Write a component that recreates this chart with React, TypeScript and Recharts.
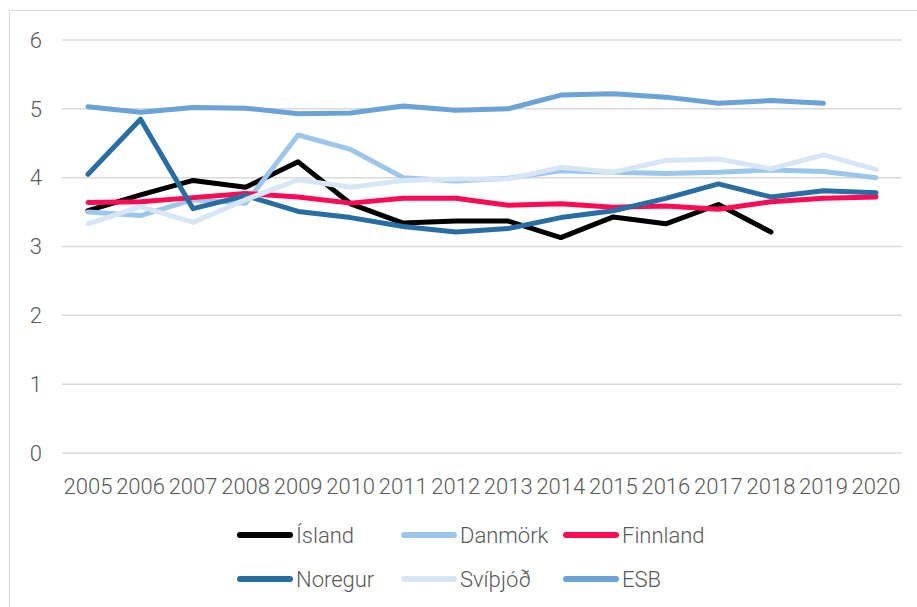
import { CartesianGrid, Legend, Line, LineChart, XAxis, YAxis } from "recharts";

const years = [
  "2005", "2006", "2007", "2008", "2009", "2010", "2011", "2012",
  "2013", "2014", "2015", "2016", "2017", "2018", "2019", "2020",
];

const island = [3.52, 3.75, 3.96, 3.86, 4.23, 3.62, 3.34, 3.37, 3.37, 3.13, 3.43, 3.33, 3.61, 3.21, null, null];
const danmork = [3.5, 3.45, 3.68, 3.63, 4.62, 4.41, 4.0, 3.95, 3.99, 4.1, 4.08, 4.06, 4.08, 4.11, 4.09, 4.0];
const finnland = [3.64, 3.65, 3.71, 3.77, 3.72, 3.63, 3.7, 3.7, 3.6, 3.62, 3.57, 3.59, 3.54, 3.65, 3.7, 3.72];
const noregur = [4.05, 4.85, 3.55, 3.74, 3.51, 3.42, 3.29, 3.21, 3.26, 3.42, 3.52, 3.7, 3.91, 3.72, 3.81, 3.78];
const svithjod = [3.33, 3.58, 3.35, 3.68, 3.97, 3.86, 3.96, 3.98, 3.98, 4.15, 4.08, 4.25, 4.27, 4.13, 4.33, 4.12];
const esb = [5.03, 4.95, 5.02, 5.01, 4.93, 4.94, 5.04, 4.98, 5.0, 5.2, 5.22, 5.17, 5.08, 5.12, 5.08, null];

const yTicks = [0, 1, 2, 3, 4, 5, 6];

const series = [
  { key: "island", name: "Ísland", color: "#000000", values: island },
  { key: "danmork", name: "Danmörk", color: "#9dc7ea", values: danmork },
  { key: "finnland", name: "Finnland", color: "#ff0a54", values: finnland },
  { key: "noregur", name: "Noregur", color: "#286ea2", values: noregur },
  { key: "svithjod", name: "Svíþjóð", color: "#d6e6f7", values: svithjod },
  { key: "esb", name: "ESB", color: "#6ca3d6", values: esb },
];

const data = years.map((year, i) => {
  const row: Record<string, string | number | null> = { year };
  series.forEach((s) => {
    row[s.key] = s.values[i];
  });
  return row;
});

const font = "Roboto, 'Noto Sans', sans-serif";
const textColor = "#595959";
const legendCols = [237, 401, 563];

function renderLegend() {
  return (
    <div style={{ position: "relative", height: 90, fontFamily: font, fontWeight: 300 }}>
      {series.map((s, i) => (
        <div
          key={s.key}
          style={{
            position: "absolute",
            left: legendCols[i % 3],
            top: i < 3 ? 0 : 44,
            height: 44,
            display: "flex",
            alignItems: "center",
          }}
        >
          <span
            style={{
              display: "inline-block",
              width: 56,
              height: 6,
              borderRadius: 3,
              background: s.color,
              marginRight: 3,
            }}
          />
          <span style={{ fontSize: 22, color: textColor }}>{s.name}</span>
        </div>
      ))}
    </div>
  );
}

export default function App() {
  return (
    <div style={{ position: "absolute", left: 0, top: 0, width: 917, height: 607, background: "#fff" }}>
      <div
        style={{
          position: "absolute",
          left: 9,
          top: 10,
          width: 908,
          height: 597,
          borderLeft: "1px solid #d9d9d9",
          borderTop: "1px solid #d9d9d9",
        }}
      />
      <LineChart
        width={917}
        height={607}
        data={data}
        margin={{ top: 40, right: 15, bottom: 4, left: 0 }}
        style={{ position: "absolute", left: 0, top: 0 }}
      >
        <CartesianGrid stroke="#d9d9d9" strokeWidth={1.5} vertical={false} />
        <XAxis
          dataKey="year"
          axisLine={false}
          tickLine={false}
          interval={0}
          height={60}
          tickMargin={19}
          padding={{ left: 26, right: 26 }}
          tick={{ fill: textColor, fontSize: 22, fontFamily: font, fontWeight: 300 }}
        />
        <YAxis
          domain={[0, 6]}
          ticks={yTicks}
          width={62}
          axisLine={false}
          tickLine={false}
          tickMargin={14}
          tick={{ fill: textColor, fontSize: 22, fontFamily: font, fontWeight: 300 }}
        />
        <Legend verticalAlign="bottom" content={renderLegend} />
        {series.map((s) => (
          <Line
            key={s.key}
            dataKey={s.key}
            name={s.name}
            stroke={s.color}
            strokeWidth={5}
            strokeLinejoin="round"
            strokeLinecap="round"
            dot={false}
            activeDot={false}
            isAnimationActive={false}
          />
        ))}
      </LineChart>
    </div>
  );
}
